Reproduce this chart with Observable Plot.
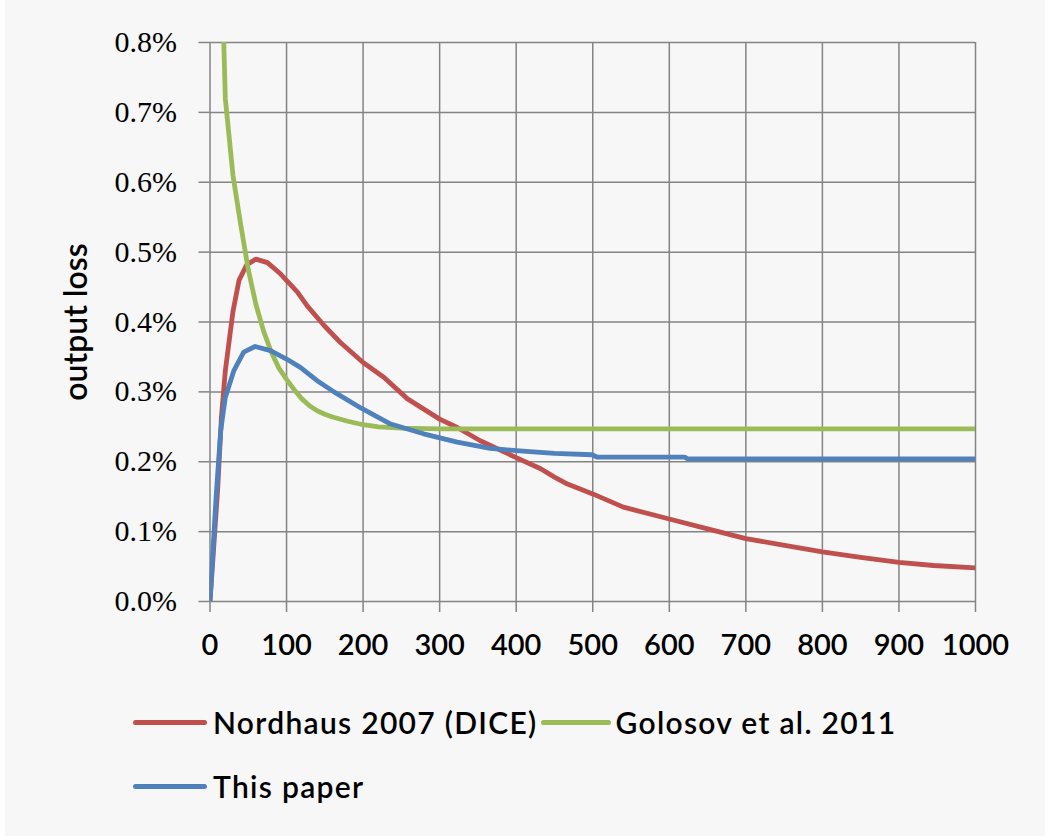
<!DOCTYPE html>
<html>
<head>
<meta charset="utf-8">
<script src="https://cdn.jsdelivr.net/npm/d3@7"></script>
<script src="https://cdn.jsdelivr.net/npm/@observablehq/plot@0.6"></script>
<style>
  html, body { margin: 0; padding: 0; background: #f7f7f7; }
  body { width: 1045px; height: 836px; position: relative; overflow: hidden; }
  #strip { position: absolute; left: 0; top: 0; width: 5px; height: 836px; background: #fff; }
  #chart svg { display: block; }
  #legend { position: relative; height: 171px; font-family: Lato, sans-serif; font-size: 30px; font-weight: 600; color: #000; }
  .row { position: absolute; left: 133px; display: flex; align-items: center; height: 40px; }
  .sw { width: 74px; height: 5px; border-radius: 3px; margin-right: 6px; }
  .lab { white-space: nowrap; letter-spacing: 1.3px; }
  .sw2 { margin-left: 3px; width: 70px; margin-right: 5px; }
</style>
</head>
<body>
<div id="strip"></div>
<div id="chart"></div>
<div id="legend"></div>
<script>
// ---- data (values in percent of output) ----
const seriesNames = ["Nordhaus 2007 (DICE)", "Golosov et al. 2011", "This paper"];
const seriesColors = ["#c0504d", "#9bbb59", "#4f81bd"];

const xTicks = [0, 100, 200, 300, 400, 500, 600, 700, 800, 900, 1000];
const yTicks = [0, 0.1, 0.2, 0.3, 0.4, 0.5, 0.6, 0.7, 0.8];

const nordhausYears = [0, 10, 15, 20, 30, 38, 48, 60, 75, 92, 114, 127, 149, 170, 200, 227, 258, 300, 323, 353, 400, 432, 450, 467, 500, 540, 600, 650, 700, 745, 800, 850, 900, 945, 1000];
const nordhausLoss  = [0, 0.16, 0.265, 0.33, 0.415, 0.46, 0.482, 0.49, 0.485, 0.469, 0.443, 0.423, 0.395, 0.371, 0.342, 0.321, 0.29, 0.261, 0.249, 0.23, 0.206, 0.19, 0.178, 0.168, 0.154, 0.135, 0.118, 0.104, 0.09, 0.0815, 0.071, 0.063, 0.056, 0.0515, 0.048];

const golosovYears = [10, 20, 30, 40, 50, 60, 70, 80, 90, 100, 110, 120, 130, 140, 150, 160, 180, 200, 220, 250, 300, 1000];
const golosovLoss  = [1.12, 0.72, 0.61, 0.54, 0.475, 0.425, 0.387, 0.357, 0.334, 0.318, 0.303, 0.29, 0.28, 0.273, 0.268, 0.264, 0.258, 0.253, 0.25, 0.248, 0.247, 0.247];

const paperYears = [0, 8, 14, 20, 31, 44, 59, 79, 100, 118, 140, 162, 197, 236, 279, 323, 366, 400, 450, 499, 506, 620, 624, 1000];
const paperLoss  = [0, 0.15, 0.245, 0.292, 0.33, 0.357, 0.365, 0.359, 0.347, 0.335, 0.316, 0.3, 0.277, 0.254, 0.24, 0.228, 0.219, 0.216, 0.212, 0.21, 0.2065, 0.2065, 0.204, 0.204];

const seriesYears = [nordhausYears, golosovYears, paperYears];
const seriesLoss = [nordhausLoss, golosovLoss, paperLoss];

const rows = seriesNames.flatMap((name, i) =>
  seriesYears[i].map((t, j) => ({series: name, t, v: seriesLoss[i][j]})));

const gridColor = "#848484";

const chart = Plot.plot({
  width: 1045,
  height: 665,
  marginLeft: 209.5,
  marginRight: 70,
  marginTop: 42,
  marginBottom: 64,
  style: {background: "transparent", color: "#000", overflow: "visible"},
  x: {domain: [0, 1000], axis: null},
  y: {domain: [0, 0.8], axis: null},
  color: {domain: seriesNames, range: seriesColors},
  marks: [
    Plot.ruleY(yTicks, {stroke: gridColor, strokeWidth: 1.5}),
    Plot.ruleX(xTicks, {stroke: gridColor, strokeWidth: 1.5}),
    Plot.axisY({
      ticks: yTicks, tickSize: 11, tickPadding: 22,
      tickFormat: d => d.toFixed(1) + "%",
      stroke: gridColor, strokeWidth: 1.5,
      fontFamily: "Liberation Serif", fontSize: 30, fill: "#000",
      label: null
    }),
    Plot.axisX({
      ticks: xTicks, tickSize: 11, tickPadding: 22,
      tickFormat: d => String(d),
      stroke: gridColor, strokeWidth: 1.5,
      fontFamily: "Lato", fontSize: 29, fontWeight: 600, fill: "#000",
      label: null
    }),
    Plot.line(rows, {x: "t", y: "v", stroke: "series", z: "series", strokeWidth: 4.8, clip: true, strokeLinejoin: "round", strokeLinecap: "round"}),
    Plot.text(["output loss"], {frameAnchor: "left", textAnchor: "middle", rotate: -90, dx: -133, fontFamily: "Lato", fontSize: 32, fontWeight: 600, fill: "#000", text: d => d})
  ]
});
document.getElementById("chart").appendChild(chart);

// ---- legend ----
const legend = d3.select("#legend");
const r1 = legend.append("div").attr("class", "row").style("top", (722 - 665 - 20) + "px");
r1.append("div").attr("class", "sw").style("background", seriesColors[0]);
r1.append("div").attr("class", "lab").text(seriesNames[0]);
r1.append("div").attr("class", "sw sw2").style("background", seriesColors[1]);
r1.append("div").attr("class", "lab").text(seriesNames[1]);
const r2 = legend.append("div").attr("class", "row").style("top", (786 - 665 - 20) + "px");
r2.append("div").attr("class", "sw").style("background", seriesColors[2]);
r2.append("div").attr("class", "lab").text(seriesNames[2]);
</script>
</body>
</html>
